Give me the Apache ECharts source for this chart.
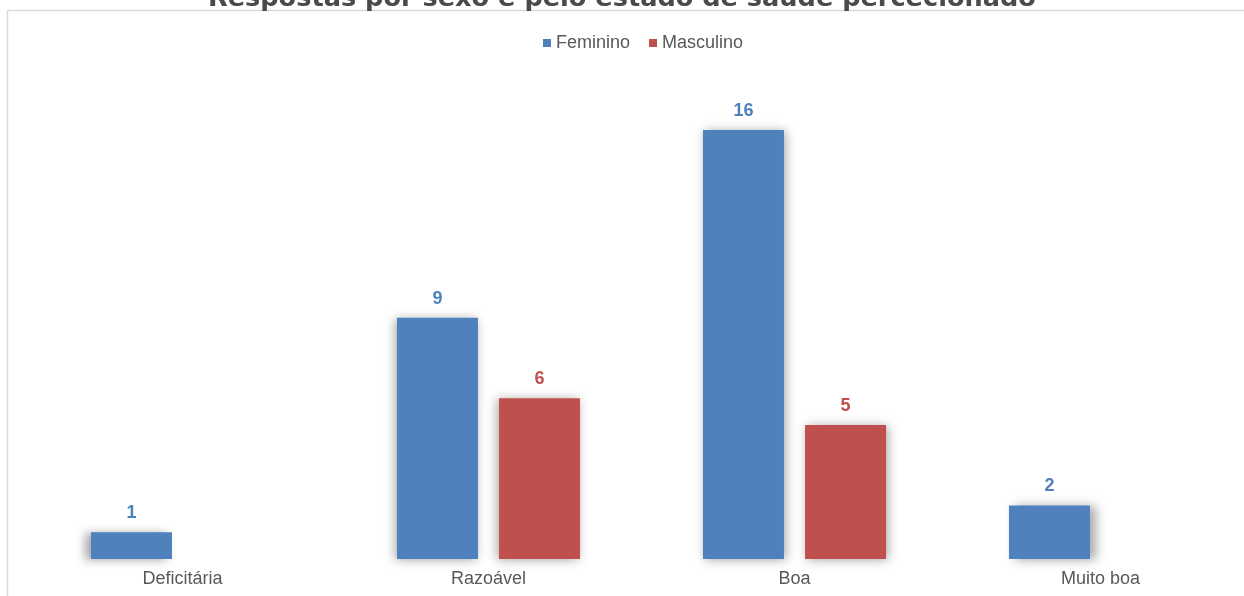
<!DOCTYPE html>
<html>
<head>
<meta charset="utf-8">
<script src="https://cdn.jsdelivr.net/npm/echarts@6/dist/echarts.min.js"></script>
<style>
  html, body { margin: 0; padding: 0; background: #ffffff; overflow: hidden; }
  /* the chart area runs a little past the right edge of the window */
  #chart { width: 1270px; height: 596px; }
</style>
</head>
<body>
<div id="chart"></div>
<script>
// Self-rated health answers, split by sex
const categories = ['Deficitária', 'Razoável', 'Boa', 'Muito boa'];
const feminino = [1, 9, 16, 2];
const masculino = [null, 6, 5, null];

const BLUE = '#4F81BD';
const RED = '#C0504D';

// Soft drop shadow that leans outward from the centre of the chart
function withShadow(values) {
  const mid = (values.length - 1) / 2;
  return values.map((v, i) => ({
    value: v,
    itemStyle: {
      shadowBlur: 10,
      shadowColor: 'rgba(0,0,0,0.34)',
      shadowOffsetX: (i - mid) * 4,
      shadowOffsetY: 1
    }
  }));
}

const chart = echarts.init(document.getElementById('chart'), null, { renderer: 'canvas' });

chart.setOption({
  backgroundColor: '#ffffff',
  animation: false,
  graphic: [{
    type: 'rect',
    shape: { x: 7.5, y: 10.5, width: 1400, height: 800 },
    style: { fill: 'none', stroke: '#d9d9d9', lineWidth: 1.5 },
    z: -10
  }],
  title: {
    text: 'Respostas por sexo e pelo estado de saúde percecionado',
    left: 203,
    top: -19,
    textStyle: {
      fontFamily: 'DejaVu Sans',
      fontWeight: 'bold',
      fontSize: 25.6,
      color: '#4a4a4a'
    }
  },
  legend: {
    data: ['Feminino', 'Masculino'],
    left: 538,
    top: 29,
    icon: 'rect',
    itemWidth: 8,
    itemHeight: 8,
    itemGap: 19,
    textStyle: {
      fontFamily: 'Liberation Sans',
      fontSize: 18,
      color: '#595959'
    }
  },
  grid: {
    left: 29.5,
    width: 1224,
    top: 130,
    height: 429,
    containLabel: false
  },
  xAxis: {
    type: 'category',
    data: categories,
    axisLine: { show: false },
    axisTick: { show: false },
    axisLabel: {
      fontFamily: 'Liberation Sans',
      fontSize: 18,
      color: '#595959',
      margin: 11
    }
  },
  yAxis: {
    type: 'value',
    min: 0,
    max: 16,
    show: false,
    splitLine: { show: false }
  },
  series: [
    {
      name: 'Feminino',
      type: 'bar',
      data: withShadow(feminino),
      barWidth: 81,
      barGap: '26%',
      itemStyle: { color: BLUE },
      label: {
        show: true,
        position: 'top',
        distance: 10,
        fontFamily: 'Liberation Sans',
        fontWeight: 'bold',
        fontSize: 18,
        color: BLUE
      }
    },
    {
      name: 'Masculino',
      type: 'bar',
      data: withShadow(masculino),
      barWidth: 81,
      barGap: '26%',
      itemStyle: { color: RED },
      label: {
        show: true,
        position: 'top',
        distance: 10,
        fontFamily: 'Liberation Sans',
        fontWeight: 'bold',
        fontSize: 18,
        color: RED
      }
    }
  ]
});
</script>
</body>
</html>
